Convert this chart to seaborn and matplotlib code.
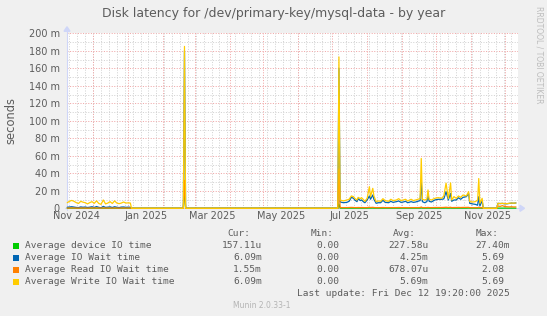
import matplotlib
matplotlib.use("Agg")
import matplotlib.pyplot as plt
from matplotlib.patches import Polygon, Rectangle
import numpy as np
import pandas as pd
import seaborn as sns

W, H = 547, 316

title = "Disk latency for /dev/primary-key/mysql-data - by year"
y_label = "seconds"
series_names = ["Average device IO time", "Average IO Wait time",
                "Average Read IO Wait time", "Average Write IO Wait time"]
series_colors = ["#00CC00", "#0066B3", "#FF8000", "#FFCC00"]
cur_values = ["157.11u", "6.09m", "1.55m", "6.09m"]
min_values = ["0.00", "0.00", "0.00", "0.00"]
avg_values = ["227.58u", "4.25m", "678.07u", "5.69m"]
max_values = ["27.40m", "5.69", "2.08", "5.69"]
last_update = "Last update: Fri Dec 12 19:20:00 2025"
version_text = "Munin 2.0.33-1"
watermark = "RRDTOOL / TOBI OETIKER"

y_ticks = [0, 20, 40, 60, 80, 100, 120, 140, 160, 180, 200]
y_tick_labels = ["0", "20 m", "40 m", "60 m", "80 m", "100 m", "120 m",
                 "140 m", "160 m", "180 m", "200 m"]
x_tick_months = ["2024-11", "2025-01", "2025-03", "2025-05", "2025-07", "2025-09", "2025-11"]
x_tick_labels = ["Nov 2024", "Jan 2025", "Mar 2025", "May 2025", "Jul 2025", "Sep 2025", "Nov 2025"]
x_start = "2024-11-07 19:20"
x_end = "2025-12-12 19:20"

# values in milliseconds ("m" units of the axis)
dates = [
    "2024-11-08", "2024-11-10", "2024-11-12", "2024-11-14", "2024-11-16", "2024-11-18",
    "2024-11-20", "2024-11-22", "2024-11-24", "2024-11-26", "2024-11-28", "2024-11-30",
    "2024-12-02", "2024-12-04", "2024-12-06", "2024-12-08", "2024-12-10", "2024-12-12",
    "2024-12-14", "2024-12-16", "2024-12-18", "2024-12-20", "2024-12-22", "2024-12-24",
    "2024-12-26", "2024-12-28", "2024-12-30", "2025-01-01", "2025-01-03", "2025-01-04",
    "2025-02-19", "2025-02-20", "2025-02-21", "2025-07-06", "2025-07-07",
    "2025-07-08", "2025-07-11", "2025-07-14", "2025-07-16", "2025-07-18", "2025-07-20",
    "2025-07-21", "2025-07-23", "2025-07-24", "2025-07-26", "2025-07-27", "2025-07-29",
    "2025-07-30", "2025-08-01", "2025-08-03", "2025-08-04", "2025-08-06", "2025-08-07",
    "2025-08-09", "2025-08-11", "2025-08-13", "2025-08-15", "2025-08-17", "2025-08-20",
    "2025-08-22", "2025-08-24", "2025-08-27", "2025-08-29", "2025-08-31", "2025-09-02",
    "2025-09-04", "2025-09-06", "2025-09-09", "2025-09-11", "2025-09-13", "2025-09-15",
    "2025-09-17", "2025-09-18", "2025-09-19", "2025-09-21", "2025-09-23", "2025-09-24",
    "2025-09-25", "2025-09-27", "2025-09-30", "2025-10-03", "2025-10-06", "2025-10-08",
    "2025-10-10", "2025-10-12", "2025-10-14", "2025-10-15", "2025-10-17", "2025-10-19",
    "2025-10-21", "2025-10-23", "2025-10-25", "2025-10-28", "2025-10-30", "2025-10-31",
    "2025-11-03", "2025-11-05", "2025-11-07", "2025-11-08", "2025-11-09", "2025-11-11",
    "2025-11-12", "2025-11-24",
    "2025-11-25", "2025-11-27", "2025-11-29", "2025-12-01", "2025-12-03", "2025-12-05",
    "2025-12-07", "2025-12-09", "2025-12-11",
]

device_io_ms = [
    0.2, 0.2, 0.2, 0.2, 0.2, 0.2,
    0.2, 0.2, 0.2, 0.2, 0.2, 0.2,
    0.2, 0.2, 0.2, 0.2, 0.2, 0.2,
    0.2, 0.2, 0.2, 0.2, 0.2, 0.2,
    0.2, 0.2, 0.2, 0.2, 0.2, 0.0,
    0.0, 27.4, 0.0, 0.0, 5.0,
    0.2, 0.2, 0.2, 0.2, 0.2, 0.2,
    0.2, 0.2, 0.2, 0.2, 0.2, 0.2,
    0.2, 0.2, 0.3, 0.2, 0.3, 0.2,
    0.2, 0.2, 0.2, 0.2, 0.2, 0.2,
    0.2, 0.2, 0.2, 0.2, 0.2, 0.2,
    0.2, 0.2, 0.2, 0.2, 0.2, 0.2,
    0.2, 0.4, 0.2, 0.2, 0.2, 0.3,
    0.2, 0.2, 0.2, 0.2, 0.2, 0.2,
    0.3, 0.2, 0.3, 0.2, 0.2, 0.2,
    0.2, 0.2, 0.2, 0.2, 0.3, 0.2,
    0.2, 0.2, 0.2, 0.3, 0.2, 0.2,
    0.0, 0.0,
    0.2, 0.2, 0.2, 0.2, 0.2, 0.2,
    0.2, 0.2, 0.16,
]

io_wait_ms = [
    1.2, 1.5, 1.8, 1.4, 1.0, 0.8,
    1.6, 1.2, 1.5, 0.9, 1.3, 1.8,
    1.0, 2.0, 1.1, 0.6, 2.2, 1.0,
    1.3, 1.7, 0.9, 1.8, 1.2, 0.8,
    1.4, 1.5, 1.1, 1.3, 1.2, 0.0,
    0.0, 180.0, 0.0, 0.0, 160.0,
    7.2, 6.4, 6.8, 8.0, 12.5, 11.4,
    9.5, 7.6, 11.0, 8.8, 9.5, 7.2,
    6.4, 9.5, 14.1, 10.3, 15.2, 10.3,
    5.7, 6.4, 6.4, 9.1, 6.8, 6.4,
    8.0, 6.8, 7.6, 8.4, 6.8, 7.2,
    8.0, 6.4, 7.6, 6.8, 7.2, 8.0,
    8.8, 30.0, 7.6, 6.4, 7.6, 14.0,
    8.0, 7.2, 9.5, 10.3, 10.3, 10.7,
    19.0, 9.5, 17.0, 8.0, 9.5, 9.5,
    12.0, 10.3, 12.5, 13.3, 17.0, 5.7,
    4.9, 4.5, 3.5, 13.3, 2.7, 8.8,
    0.0, 0.0,
    5.6, 5.4, 5.6, 5.2, 5.2, 5.6,
    5.9, 5.8, 6.09,
]

read_wait_ms = [
    0.3, 0.3, 0.4, 0.3, 0.3, 0.2,
    0.3, 0.3, 0.3, 0.2, 0.3, 0.4,
    0.3, 0.4, 0.3, 0.2, 0.4, 0.3,
    0.3, 0.3, 0.2, 0.4, 0.3, 0.2,
    0.3, 0.3, 0.3, 0.3, 0.3, 0.0,
    0.0, 32.0, 0.0, 0.0, 45.0,
    0.8, 0.8, 0.8, 0.9, 1.0, 0.9,
    0.8, 0.8, 0.9, 0.8, 0.9, 0.8,
    0.7, 0.8, 1.2, 0.9, 1.1, 0.9,
    0.7, 0.8, 0.8, 0.9, 0.8, 0.8,
    0.8, 0.8, 0.8, 0.9, 0.8, 0.8,
    0.8, 0.7, 0.8, 0.8, 0.8, 0.8,
    0.9, 1.5, 0.8, 0.8, 0.8, 1.0,
    0.8, 0.8, 0.9, 0.9, 0.9, 1.0,
    1.2, 0.9, 1.2, 0.8, 0.9, 0.9,
    1.0, 0.9, 1.0, 1.0, 1.1, 0.7,
    0.7, 0.7, 0.7, 1.2, 0.6, 0.8,
    0.0, 0.0,
    2.6, 2.2, 3.0, 2.0, 1.8, 1.6,
    1.8, 1.5, 1.55,
]

write_wait_ms = [
    6.4, 8.0, 9.0, 8.0, 6.5, 5.5,
    8.0, 7.0, 6.4, 5.0, 6.5, 7.6,
    5.7, 8.5, 5.5, 4.5, 9.5, 5.0,
    6.0, 7.6, 5.5, 8.5, 6.0, 5.3,
    6.0, 7.2, 6.0, 6.2, 6.0, 0.0,
    0.0, 185.0, 0.0, 0.0, 173.0,
    9.5, 8.4, 9.5, 10.3, 14.1, 13.3,
    11.4, 9.5, 12.5, 11.0, 12.2, 9.5,
    8.0, 11.4, 24.7, 13.3, 22.8, 14.1,
    7.6, 8.4, 8.0, 11.0, 8.8, 8.0,
    10.3, 8.8, 9.5, 11.0, 8.8, 9.5,
    10.3, 8.4, 10.3, 8.8, 9.5, 10.3,
    11.0, 57.0, 10.3, 9.5, 10.3, 21.0,
    10.3, 9.5, 11.4, 12.2, 11.4, 14.1,
    28.8, 11.0, 29.0, 9.5, 13.3, 11.4,
    14.1, 12.5, 15.2, 14.1, 19.0, 7.6,
    7.2, 7.6, 9.5, 34.0, 5.7, 11.4,
    0.0, 0.0,
    5.7, 5.5, 5.7, 5.3, 5.3, 5.7,
    6.0, 5.8, 6.09,
]

sns.set_style("white")
plt.rcParams["font.family"] = ["DejaVu Sans"]

df = pd.DataFrame({
    "date": pd.to_datetime(dates),
    series_names[0]: device_io_ms,
    series_names[1]: io_wait_ms,
    series_names[2]: read_wait_ms,
    series_names[3]: write_wait_ms,
})
long = df.melt(id_vars="date", var_name="series", value_name="value")

L, R, T, B = 67.0, 518.0, 33.3, 208.3
fig = plt.figure(figsize=(W / 100, H / 100), dpi=100, facecolor="#F0F0F0")
ax = fig.add_axes([L / W, 1 - B / H, (R - L) / W, (B - T) / H])
ax.set_facecolor("white")

txt_col = "#5c5c5c"
minor_col = "#D2D2D2"
major_col = "#F0A4A4"
axis_col = "#CFD6F8"
dash = (0, (1, 1.6))

t0, t1 = pd.Timestamp(x_start), pd.Timestamp(x_end)

# grid
for d in pd.date_range(t0.normalize(), t1, freq="W-SUN"):
    ax.axvline(d, color=minor_col, lw=0.72, ls=dash, zorder=1)
for d in pd.date_range(t0.normalize(), t1, freq="MS"):
    ax.axvline(d, color=major_col, lw=0.72, ls=dash, zorder=1.2)
ax.set_yticks(y_ticks)
ax.set_yticklabels(y_tick_labels)
ax.set_yticks(np.arange(10, 200, 20), minor=True)
ax.grid(which="minor", axis="y", color=minor_col, lw=0.72, ls=dash, zorder=1)
ax.grid(which="major", axis="y", color=major_col, lw=0.72, ls=dash, zorder=1.2)
ax.set_axisbelow(True)

sns.lineplot(data=long, x="date", y="value", hue="series", hue_order=series_names,
             palette=dict(zip(series_names, series_colors)), estimator=None,
             linewidth=0.9, legend=False, ax=ax, zorder=3, clip_on=False)

ax.set_xlim(t0, t1)
ax.set_ylim(0, 200)

label_pos = []
for m in x_tick_months:
    s = pd.Timestamp(m + "-01")
    label_pos.append(s + pd.Timedelta(days=s.days_in_month / 2))
ax.set_xticks(label_pos)
ax.set_xticklabels(x_tick_labels)
ax.tick_params(axis="x", length=0, pad=1.8, labelsize=7, labelcolor=txt_col)
ax.tick_params(axis="y", which="major", length=1.5, color=major_col, pad=3.6,
               labelsize=7, labelcolor=txt_col)
ax.tick_params(axis="y", which="minor", length=1.5, color=minor_col)
ax.set_xlabel("")
ax.set_ylabel("")
for s in ax.spines.values():
    s.set_visible(False)

# axes lines with arrows
pw, ph = R - L, B - T
ax.plot([-2 / pw, 1 + 2 / pw], [0, 0], transform=ax.transAxes, color=axis_col,
        lw=0.8, clip_on=False, zorder=2.5)
ax.plot([0, 0], [-2 / ph, 1 + 2 / ph], transform=ax.transAxes, color=axis_col,
        lw=0.8, clip_on=False, zorder=2.5)
ax.add_patch(Polygon([(1 + 2 / pw, 3 / ph), (1 + 6.5 / pw, 0), (1 + 2 / pw, -3 / ph)],
                     closed=True, transform=ax.transAxes, color=axis_col, clip_on=False, zorder=2.5))
ax.add_patch(Polygon([(-3 / pw, 1 + 2 / ph), (0, 1 + 6.5 / ph), (3 / pw, 1 + 2 / ph)],
                     closed=True, transform=ax.transAxes, color=axis_col, clip_on=False, zorder=2.5))


def fx(x):
    return x / W


def fy(y):
    return 1 - y / H


fig.text(fx(273.5), fy(13), title, ha="center", va="center", fontsize=9, color=txt_col)
fig.text(fx(11), fy(120), y_label, ha="center", va="center", rotation=90,
         fontsize=8.3, color=txt_col)
fig.text(fx(539.5), fy(6), watermark, ha="center", va="top", rotation=270,
         fontsize=5.5, color="#BDBDBD")

mono = "DejaVu Sans Mono"
lfs = 6.8
cw = lfs * 100 / 72 * 0.6021
header_y = 234.0
row_y = [245.7, 257.7, 269.7, 281.7]
for name, x in zip(["Cur:", "Min:", "Avg:", "Max:"], [227.6, 310.9, 393.0, 475.8]):
    fig.text(fx(x), fy(header_y), name, ha="left", va="center", fontsize=lfs,
             family=mono, color=txt_col)

col_ends = [261.7, 345.0, 427.7, 509.3]


def col_text(s, end, y):
    n = len(s) + (0 if s[-1].isalpha() else 1)
    fig.text(fx(end - n * cw), fy(y), s, ha="left", va="center", fontsize=lfs,
             family=mono, color=txt_col)


for i, name in enumerate(series_names):
    y = row_y[i]
    fig.patches.append(Rectangle((fx(13), fy(y + 3)), 6 / W, 6 / H, transform=fig.transFigure,
                                 facecolor=series_colors[i], edgecolor="none"))
    fig.text(fx(25.2), fy(y), name, ha="left", va="center", fontsize=lfs,
             family=mono, color=txt_col)
    for vals, end in zip([cur_values, min_values, avg_values, max_values], col_ends):
        col_text(vals[i], end, y)

fig.text(fx(297.3), fy(293.3), last_update, ha="left", va="center", fontsize=lfs,
         family=mono, color=txt_col)
fig.text(fx(261.3), fy(305), version_text, ha="center", va="center", fontsize=5.5,
         color="#B4B4B4")

fig.savefig("out.png", dpi=100, facecolor=fig.get_facecolor())
